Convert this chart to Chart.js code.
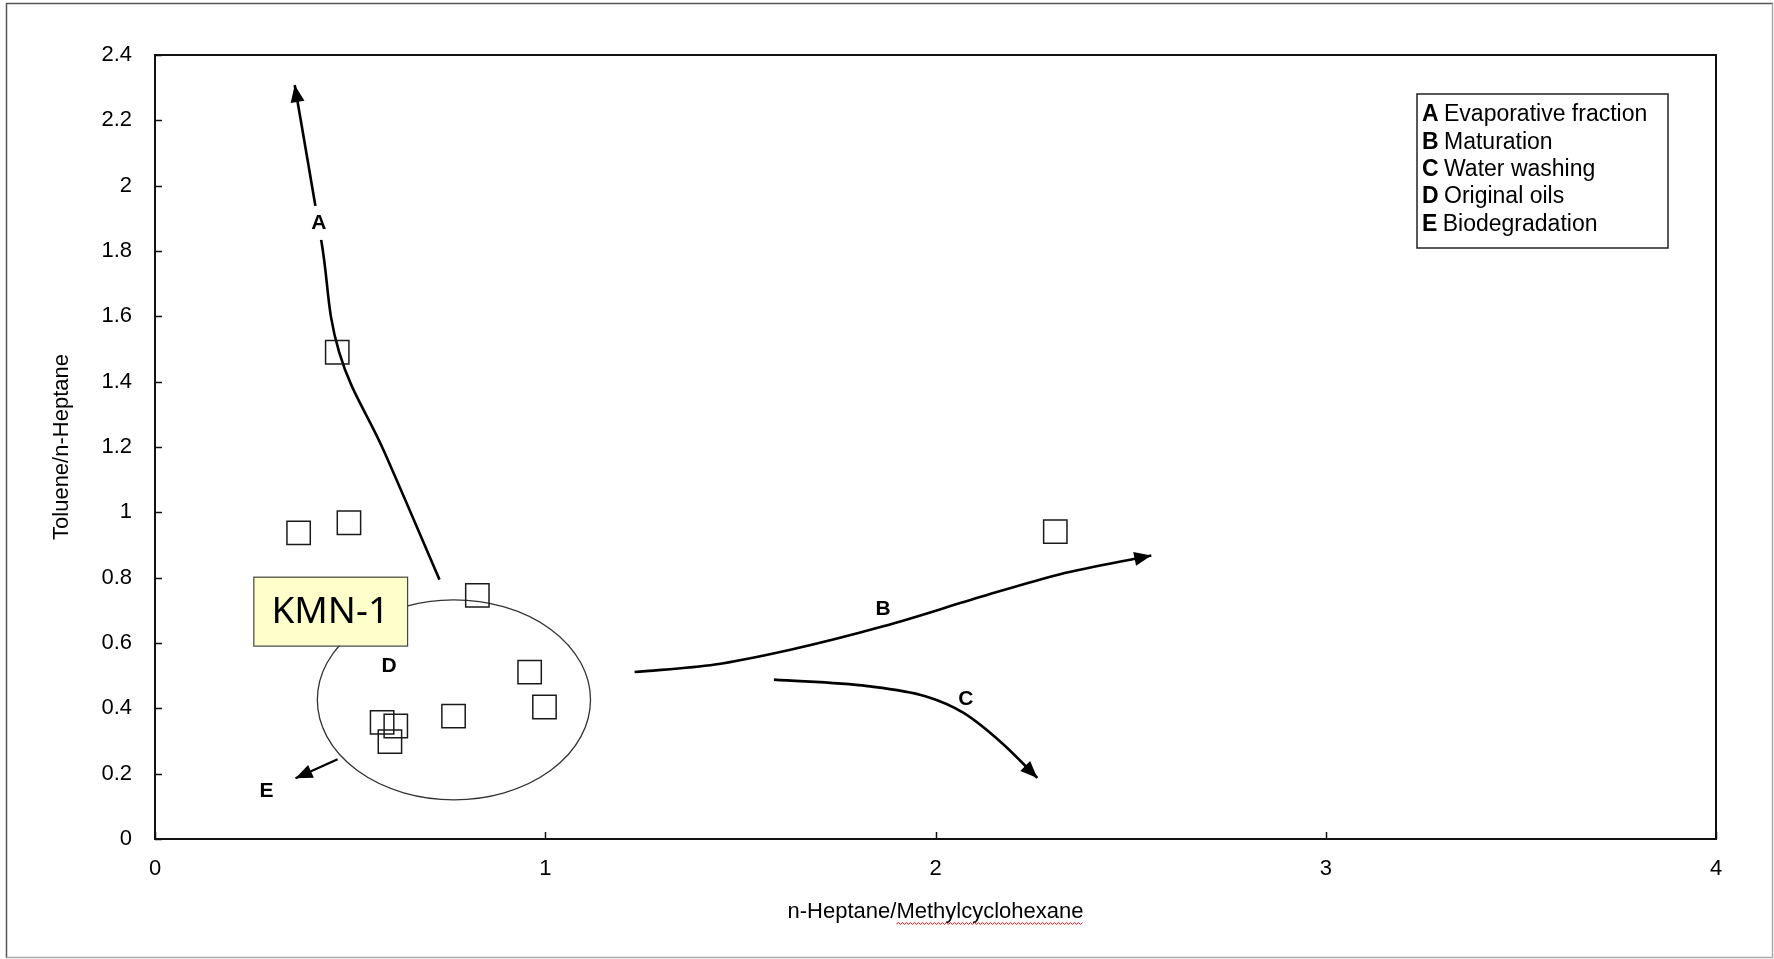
<!DOCTYPE html>
<html>
<head>
<meta charset="utf-8">
<script src="https://cdn.jsdelivr.net/npm/chart.js@4.4.0/dist/chart.umd.min.js"></script>
<style>
  html, body { margin: 0; padding: 0; background: #fff; }
  canvas { display: block; }
</style>
</head>
<body>
<canvas id="myChart" width="1774" height="959"></canvas>
<script>
// tick labels
const xTickValues = [0, 1, 2, 3, 4];
const yTickValues = [0, 0.2, 0.4, 0.6, 0.8, 1, 1.2, 1.4, 1.6, 1.8, 2, 2.2, 2.4];

// samples (n-Heptane/Methylcyclohexane vs Toluene/n-Heptane)
const sampleX = [0.467, 0.368, 0.497, 0.826, 0.960, 0.998, 0.765, 0.582, 0.617, 0.602, 2.307];
const sampleY = [1.490, 0.937, 0.968, 0.746, 0.511, 0.404, 0.376, 0.357, 0.346, 0.298, 0.941];

// trend arrows
const curveAX = [0.729, 0.588, 0.472, 0.427, 0.358];
const curveAY = [0.794, 1.184, 1.490, 1.825, 2.308];
const curveBX = [1.229, 1.435, 1.631, 1.866, 2.121, 2.317, 2.553];
const curveBY = [0.511, 0.534, 0.580, 0.651, 0.743, 0.810, 0.868];
const curveCX = [1.586, 1.826, 1.974, 2.072, 2.170, 2.261];
const curveCY = [0.488, 0.468, 0.437, 0.386, 0.294, 0.187];
const curveEX = [0.468, 0.360];
const curveEY = [0.244, 0.186];

// original oils ellipse and KMN-1 box (data units)
const ellipseCenter = [0.766, 0.426];
const ellipseRadius = [0.350, 0.306];
const kmnBox = [0.252, 0.592, 0.646, 0.803];
const kmnText = 'KMN-1';

const markerLabels = ['A', 'B', 'C', 'D', 'E'];
const markerX = [0.420, 1.866, 2.078, 0.600, 0.286];
const markerY = [1.886, 0.703, 0.429, 0.528, 0.145];

const legendKeys = ['A', 'B', 'C', 'D', 'E'];
const legendTexts = ['Evaporative fraction', 'Maturation', 'Water washing', 'Original oils', 'Biodegradation'];

const xTitle = 'n-Heptane/Methylcyclohexane';
const yTitle = 'Toluene/n-Heptane';

function toPoints(xs, ys) {
  return xs.map((x, i) => ({ x: x, y: ys[i] }));
}

const arrowSets = [1, 2, 3, 4];

const overlay = {
  id: 'overlay',
  beforeDraw(chart) {
    const c = chart.ctx;
    c.save();
    c.fillStyle = '#fff';
    c.fillRect(0, 0, chart.width, chart.height);
    c.restore();
  },
  beforeDatasetsDraw(chart) {
    const c = chart.ctx;
    const xs = chart.scales.x, ys = chart.scales.y;
    const cx = xs.getPixelForValue(ellipseCenter[0]);
    const cy = ys.getPixelForValue(ellipseCenter[1]);
    const rx = xs.getPixelForValue(ellipseCenter[0] + ellipseRadius[0]) - cx;
    const ry = cy - ys.getPixelForValue(ellipseCenter[1] + ellipseRadius[1]);
    c.save();
    c.beginPath();
    c.ellipse(cx, cy, rx, ry, 0, 0, Math.PI * 2);
    c.strokeStyle = '#333';
    c.lineWidth = 1.3;
    c.stroke();
    c.restore();
  },
  afterDatasetsDraw(chart) {
    const c = chart.ctx;
    const xs = chart.scales.x, ys = chart.scales.y;
    const area = chart.chartArea;
    c.save();

    // arrow heads
    arrowSets.forEach((di) => {
      const pts = chart.getDatasetMeta(di).data;
      const tip = pts[pts.length - 1];
      let fx = tip.cp1x, fy = tip.cp1y;
      if (fx === undefined || (Math.abs(fx - tip.x) < 0.5 && Math.abs(fy - tip.y) < 0.5)) {
        fx = pts[pts.length - 2].x; fy = pts[pts.length - 2].y;
      }
      let dx = tip.x - fx, dy = tip.y - fy;
      const len = Math.hypot(dx, dy);
      dx /= len; dy /= len;
      const L = 17, W = 7;
      const bx = tip.x - dx * L, by = tip.y - dy * L;
      c.beginPath();
      c.moveTo(tip.x, tip.y);
      c.lineTo(bx - dy * W, by + dx * W);
      c.lineTo(bx + dy * W, by - dx * W);
      c.closePath();
      c.fillStyle = '#000';
      c.fill();
    });

    // letter markers
    c.font = 'bold 21px "Liberation Sans", Arial, sans-serif';
    c.textAlign = 'center';
    c.textBaseline = 'middle';
    markerLabels.forEach((t, i) => {
      const px = xs.getPixelForValue(markerX[i]);
      const py = ys.getPixelForValue(markerY[i]);
      if (t === 'A') {
        c.fillStyle = '#fff';
        c.fillRect(px - 11, py - 17, 22, 34);
      }
      c.fillStyle = '#000';
      c.fillText(t, px, py);
    });

    // KMN-1 box
    const bx1 = xs.getPixelForValue(kmnBox[0]);
    const bx2 = xs.getPixelForValue(kmnBox[2]);
    const by1 = ys.getPixelForValue(kmnBox[3]);
    const by2 = ys.getPixelForValue(kmnBox[1]);
    c.fillStyle = '#ffffcc';
    c.fillRect(bx1, by1, bx2 - bx1, by2 - by1);
    c.strokeStyle = '#444';
    c.lineWidth = 1.2;
    c.strokeRect(bx1 + 0.5, by1 + 0.5, bx2 - bx1, by2 - by1);
    c.fillStyle = '#000';
    c.font = '37px "Noto Sans", "Open Sans", sans-serif';
    c.fillText(kmnText, (bx1 + bx2) / 2, (by1 + by2) / 2 + 1);

    // plot frame and inside ticks
    c.strokeStyle = '#111';
    c.lineWidth = 2;
    c.strokeRect(area.left, area.top, area.right - area.left, area.bottom - area.top);
    c.lineWidth = 1.5;
    c.beginPath();
    yTickValues.forEach((v) => {
      const py = Math.round(ys.getPixelForValue(v)) + 0.5;
      c.moveTo(area.left, py);
      c.lineTo(area.left + 7, py);
    });
    xTickValues.forEach((v) => {
      const px = Math.round(xs.getPixelForValue(v)) + 0.5;
      c.moveTo(px, area.bottom);
      c.lineTo(px, area.bottom - 7);
    });
    c.stroke();

    // legend box
    const lx = area.right - 299, ly = area.top + 39, lw = 251, lh = 154;
    c.fillStyle = '#fff';
    c.fillRect(lx, ly, lw, lh);
    c.strokeStyle = '#222';
    c.lineWidth = 1.5;
    c.strokeRect(lx, ly, lw, lh);
    c.textAlign = 'left';
    legendKeys.forEach((k, i) => {
      const ty = ly + 21 + i * 27.3;
      c.font = 'bold 23px "Liberation Sans", Arial, sans-serif';
      c.fillStyle = '#000';
      c.fillText(k, lx + 5, ty);
      const kw = c.measureText(k + ' ').width;
      c.font = '23px "Liberation Sans", Arial, sans-serif';
      c.fillText(legendTexts[i], lx + 5 + kw - 1, ty);
    });

    // red spell-check squiggle under the x title word
    c.font = '22px "Liberation Sans", Arial, sans-serif';
    const full = c.measureText(xTitle).width;
    const pre = c.measureText('n-Heptane/').width;
    const cxm = (area.left + area.right) / 2;
    let sx = cxm - full / 2 + pre;
    const ex = cxm + full / 2;
    const sy = 924;
    c.beginPath();
    c.moveTo(sx, sy);
    let up = true;
    for (let x = sx + 2; x <= ex; x += 2) {
      c.lineTo(x, up ? sy - 1.5 : sy + 0.5);
      up = !up;
    }
    c.strokeStyle = '#e01010';
    c.lineWidth = 1;
    c.stroke();

    // outer picture frame
    c.lineWidth = 1.5;
    c.strokeStyle = '#555';
    c.beginPath();
    c.moveTo(6.5, 958); c.lineTo(6.5, 3.5); c.lineTo(1773, 3.5);
    c.stroke();
    c.strokeStyle = '#aaa';
    c.beginPath();
    c.moveTo(1772.5, 3.5); c.lineTo(1772.5, 957.5); c.lineTo(6.5, 957.5);
    c.stroke();

    c.restore();
  }
};

const ctx = document.getElementById('myChart');

new Chart(ctx, {
  type: 'scatter',
  data: {
    datasets: [
      {
        label: 'Samples',
        data: toPoints(sampleX, sampleY),
        pointStyle: 'rect',
        pointRadius: 16.5,
        borderColor: '#1a1a1a',
        borderWidth: 1.5,
        backgroundColor: 'rgba(0,0,0,0)',
      },
      {
        label: 'A',
        data: toPoints(curveAX, curveAY),
        showLine: true,
        borderColor: '#000',
        borderWidth: 2.6,
        pointRadius: 0,
        tension: 0.4,
      },
      {
        label: 'B',
        data: toPoints(curveBX, curveBY),
        showLine: true,
        borderColor: '#000',
        borderWidth: 2.6,
        pointRadius: 0,
        cubicInterpolationMode: 'monotone',
      },
      {
        label: 'C',
        data: toPoints(curveCX, curveCY),
        showLine: true,
        borderColor: '#000',
        borderWidth: 2.6,
        pointRadius: 0,
        cubicInterpolationMode: 'monotone',
      },
      {
        label: 'E',
        data: toPoints(curveEX, curveEY),
        showLine: true,
        borderColor: '#000',
        borderWidth: 2.2,
        pointRadius: 0,
        tension: 0,
      },
    ],
  },
  options: {
    responsive: false,
    animation: false,
    devicePixelRatio: 1,
    layout: { padding: { left: 0, top: 55, right: 58, bottom: 0 } },
    plugins: {
      legend: { display: false },
      tooltip: { enabled: false },
    },
    scales: {
      x: {
        type: 'linear',
        min: 0,
        max: 4,
        afterBuildTicks: (s) => { s.ticks = xTickValues.map((v) => ({ value: v })); },
        afterFit: (s) => { s.height = 120; },
        ticks: {
          padding: 17,
          color: '#000',
          font: { family: '"Liberation Sans", Arial, sans-serif', size: 22 },
          callback: (v) => String(v),
        },
        grid: { display: false, drawTicks: false },
        border: { display: false },
        title: {
          display: true,
          text: xTitle,
          color: '#000',
          font: { family: '"Liberation Sans", Arial, sans-serif', size: 22 },
          padding: { top: 0, bottom: 34 },
        },
      },
      y: {
        type: 'linear',
        min: 0,
        max: 2.4,
        afterBuildTicks: (s) => { s.ticks = yTickValues.map((v) => ({ value: v })); },
        afterFit: (s) => { s.width = 155; },
        ticks: {
          padding: 23,
          color: '#000',
          font: { family: '"Liberation Sans", Arial, sans-serif', size: 22 },
          callback: (v) => String(+v.toFixed(1)),
        },
        grid: { display: false, drawTicks: false },
        border: { display: false },
        title: {
          display: true,
          text: yTitle,
          color: '#000',
          font: { family: '"Liberation Sans", Arial, sans-serif', size: 22 },
          padding: { top: 49, bottom: 0 },
        },
      },
    },
  },
  plugins: [overlay],
});
</script>
</body>
</html>
